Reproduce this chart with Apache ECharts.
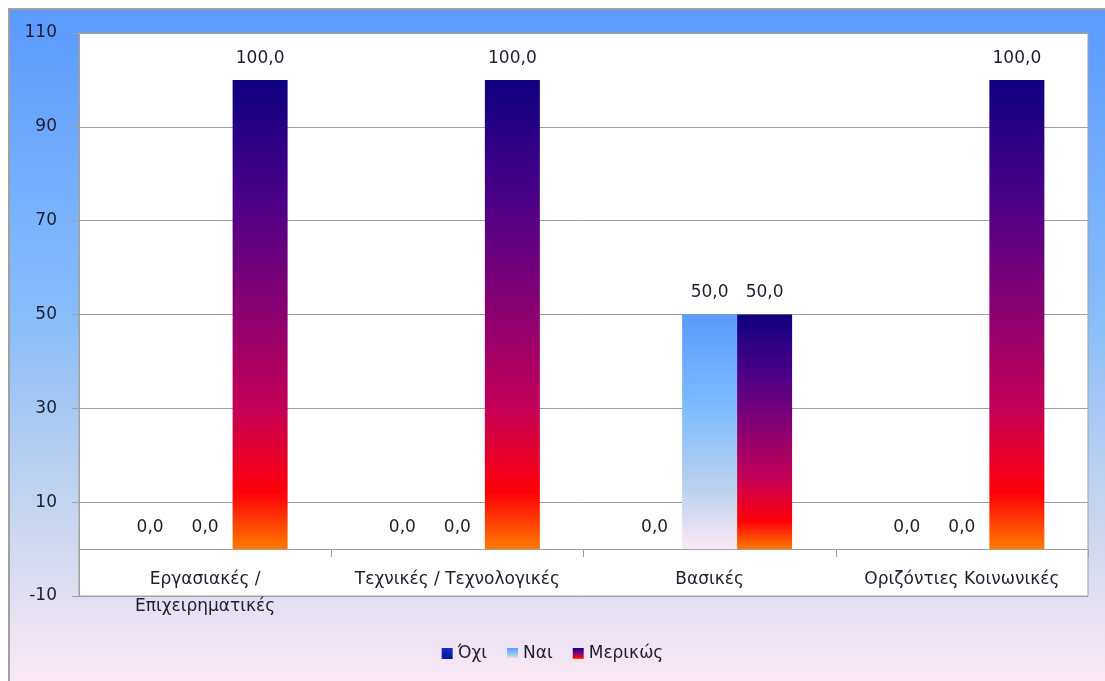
<!DOCTYPE html>
<html>
<head>
<meta charset="utf-8">
<script src="https://cdn.jsdelivr.net/npm/echarts@6/dist/echarts.min.js"></script>
<style>
html,body{margin:0;padding:0;background:#fff;}
#c{width:1105px;height:681px;}
</style>
</head>
<body>
<div id="c"></div>
<script>
var categories = ['Εργασιακές / Επιχειρηματικές', 'Τεχνικές / Τεχνολογικές', 'Βασικές', 'Οριζόντιες Κοινωνικές'];
var seriesNames = ['Όχι', 'Ναι', 'Μερικώς'];
var valuesOxi = [0, 0, 0, 0];
var valuesNai = [0, 0, 50, 0];
var valuesMerikos = [100, 100, 50, 100];
var yTicks = {min: -10, max: 110, interval: 20};

var FONT = 'DejaVu Sans';
var chart = echarts.init(document.getElementById('c'), null, {renderer: 'canvas'});
function grad(stops) {
  return new echarts.graphic.LinearGradient(0, 0, 0, 1, stops.map(function (s) { return {offset: s[0], color: s[1]}; }));
}
var fmt = function (p) { return p.value.toFixed(1).replace('.', ','); };
var labelCfg = {show: true, position: 'top', distance: 13, formatter: fmt, fontFamily: FONT, fontSize: 17, color: '#1e1e30'};

var option = {
  backgroundColor: '#ffffff',
  animation: false,
  graphic: [{
    type: 'rect', z: -100, silent: true,
    shape: {x: 9, y: 9, width: 1100, height: 680},
    style: {
      fill: grad([[0, '#5a9aff'], [0.45, '#88bdfa'], [0.75, '#c8d6ee'], [0.88, '#e6e0f2'], [1, '#fce9f6']]),
      stroke: '#a0a0a0', lineWidth: 2
    }
  }],
  grid: {left: 79, top: 33, right: 17, bottom: 85, show: true, backgroundColor: '#ffffff', borderColor: '#a0a0a0', borderWidth: 1},
  legend: {
    bottom: 14, left: 'center', itemWidth: 11, itemHeight: 11, itemGap: 20, icon: 'rect',
    textStyle: {fontFamily: FONT, fontSize: 17, color: '#1e1e30'},
    data: seriesNames
  },
  xAxis: {
    type: 'category', data: categories,
    axisLine: {onZero: true, lineStyle: {color: '#a0a0a0', width: 1}},
    axisTick: {show: true, length: 8, lineStyle: {color: '#a0a0a0'}},
    axisLabel: {
      margin: -30, fontFamily: FONT, fontSize: 17, color: '#1e1e30', lineHeight: 27, interval: 0,
      formatter: function (v) { return v.length > 24 ? v.replace('/ ', '/\n') : v; }
    },
    splitLine: {show: false}
  },
  yAxis: {
    type: 'value', min: yTicks.min, max: yTicks.max, interval: yTicks.interval,
    axisLine: {show: true, lineStyle: {color: '#a0a0a0'}},
    axisTick: {show: true, length: 7, lineStyle: {color: '#a0a0a0'}},
    axisLabel: {margin: 22, fontFamily: FONT, fontSize: 17, color: '#1e1e30'},
    splitLine: {show: true, lineStyle: {color: '#a0a0a0', width: 1}}
  },
  series: [
    {name: seriesNames[0], type: 'bar', data: valuesOxi, barGap: '0%', barCategoryGap: '34.6%',
      itemStyle: {color: grad([[0, '#1a2cc0'], [1, '#0016a0']])}, label: labelCfg},
    {name: seriesNames[1], type: 'bar', data: valuesNai, barGap: '0%', barCategoryGap: '34.6%',
      itemStyle: {color: grad([[0, '#5a9aff'], [0.4, '#7ebcff'], [0.75, '#bcd2ee'], [1, '#fbe9f6']])}, label: labelCfg},
    {name: seriesNames[2], type: 'bar', data: valuesMerikos, barGap: '0%', barCategoryGap: '34.6%',
      itemStyle: {color: grad([[0, '#0e0080'], [0.25, '#4a0088'], [0.5, '#8c0070'], [0.7, '#c40056'], [0.88, '#ff0008'], [1, '#ff7a00']])}, label: labelCfg}
  ]
};
chart.setOption(option);
</script>
</body>
</html>
